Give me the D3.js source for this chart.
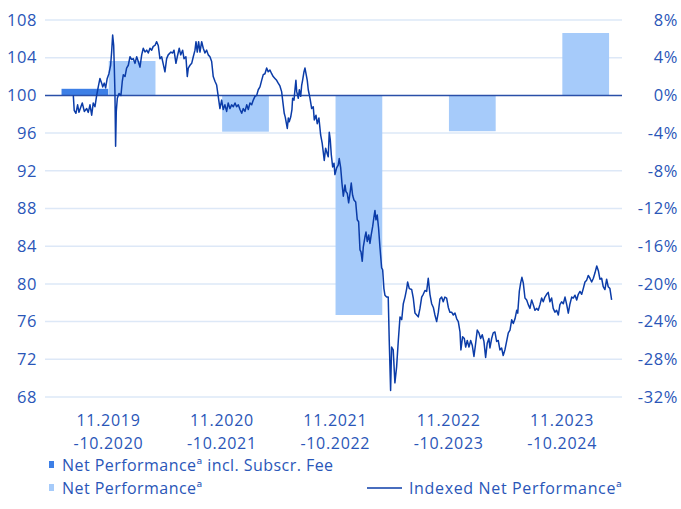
<!DOCTYPE html>
<html>
<head>
<meta charset="utf-8">
<script src="https://cdn.jsdelivr.net/npm/d3@7"></script>
<style>
  body { margin: 0; background: #fff; }
  svg text { font-family: "Open Sans", sans-serif; fill: #2a56b8; }
</style>
</head>
<body>
<svg width="681" height="509"></svg>
<script>
  const periodFrom = ['11.2019', '11.2020', '11.2021', '11.2022', '11.2023'];
  const periodTo = ['-10.2020', '-10.2021', '-10.2022', '-10.2023', '-10.2024'];
  const feePerf = [0.7, null, null, null, null];
  const netPerf = [3.65, -3.85, -23.3, -3.8, 6.62];
  const leftTicks = [68, 72, 76, 80, 84, 88, 92, 96, 100, 104, 108];
  const rightTicks = [-32, -28, -24, -20, -16, -12, -8, -4, 0, 4, 8];

  // indexed net performance, time as decimal year
  const indexTime = [
    2020.023, 2020.031, 2020.046, 2020.061, 2020.073, 2020.090, 2020.102, 2020.120, 2020.141, 2020.155,
    2020.170, 2020.185, 2020.199, 2020.214, 2020.229, 2020.243, 2020.258, 2020.273, 2020.282, 2020.296,
    2020.308, 2020.322, 2020.337, 2020.352, 2020.361, 2020.370, 2020.379, 2020.384, 2020.390, 2020.396,
    2020.402, 2020.411, 2020.426, 2020.443, 2020.455, 2020.464, 2020.479, 2020.493, 2020.508, 2020.523,
    2020.538, 2020.552, 2020.567, 2020.582, 2020.596, 2020.611, 2020.626, 2020.640, 2020.655, 2020.670,
    2020.684, 2020.699, 2020.714, 2020.728, 2020.743, 2020.758, 2020.772, 2020.787, 2020.802, 2020.822,
    2020.831, 2020.846, 2020.860, 2020.884, 2020.899, 2020.911, 2020.928, 2020.940, 2020.957, 2020.970,
    2020.987, 2020.999, 2021.016, 2021.028, 2021.037, 2021.052, 2021.067, 2021.081, 2021.096, 2021.105,
    2021.116, 2021.128, 2021.140, 2021.155, 2021.169, 2021.184, 2021.199, 2021.213, 2021.228, 2021.243,
    2021.257, 2021.272, 2021.287, 2021.301, 2021.316, 2021.331, 2021.345, 2021.360, 2021.375, 2021.389,
    2021.404, 2021.419, 2021.434, 2021.449, 2021.463, 2021.478, 2021.493, 2021.508, 2021.522, 2021.537,
    2021.552, 2021.566, 2021.581, 2021.596, 2021.610, 2021.625, 2021.640, 2021.654, 2021.669, 2021.684,
    2021.698, 2021.713, 2021.728, 2021.742, 2021.757, 2021.772, 2021.786, 2021.801, 2021.816, 2021.830,
    2021.845, 2021.860, 2021.874, 2021.883, 2021.892, 2021.910, 2021.919, 2021.927, 2021.940, 2021.951,
    2021.957, 2021.969, 2021.980, 2021.986, 2021.993, 2022.007, 2022.016, 2022.028, 2022.037, 2022.045,
    2022.057, 2022.066, 2022.075, 2022.086, 2022.095, 2022.110, 2022.125, 2022.139, 2022.148, 2022.163,
    2022.174, 2022.189, 2022.204, 2022.218, 2022.227, 2022.236, 2022.248, 2022.260, 2022.271, 2022.280,
    2022.289, 2022.298, 2022.310, 2022.322, 2022.330, 2022.345, 2022.359, 2022.368, 2022.381, 2022.392,
    2022.404, 2022.419, 2022.427, 2022.439, 2022.451, 2022.463, 2022.474, 2022.486, 2022.498, 2022.513,
    2022.527, 2022.539, 2022.551, 2022.560, 2022.571, 2022.580, 2022.595, 2022.604, 2022.615, 2022.628,
    2022.639, 2022.650, 2022.663, 2022.674, 2022.683, 2022.692, 2022.703, 2022.715, 2022.727, 2022.742,
    2022.751, 2022.762, 2022.771, 2022.786, 2022.800, 2022.809, 2022.821, 2022.830, 2022.844, 2022.859,
    2022.874, 2022.889, 2022.904, 2022.919, 2022.933, 2022.948, 2022.963, 2022.971, 2022.986, 2023.007,
    2023.021, 2023.036, 2023.051, 2023.065, 2023.080, 2023.095, 2023.109, 2023.124, 2023.139, 2023.153,
    2023.168, 2023.183, 2023.198, 2023.212, 2023.227, 2023.242, 2023.256, 2023.271, 2023.285, 2023.300,
    2023.315, 2023.330, 2023.344, 2023.359, 2023.374, 2023.389, 2023.404, 2023.418, 2023.433, 2023.441,
    2023.456, 2023.471, 2023.483, 2023.497, 2023.512, 2023.527, 2023.541, 2023.556, 2023.571, 2023.585,
    2023.600, 2023.615, 2023.629, 2023.644, 2023.659, 2023.673, 2023.688, 2023.697, 2023.712, 2023.726,
    2023.741, 2023.756, 2023.770, 2023.785, 2023.800, 2023.814, 2023.829, 2023.844, 2023.859, 2023.874,
    2023.889, 2023.903, 2023.918, 2023.933, 2023.942, 2023.956, 2023.968, 2023.979, 2023.991, 2024.006,
    2024.021, 2024.035, 2024.050, 2024.065, 2024.079, 2024.094, 2024.109, 2024.123, 2024.138, 2024.153,
    2024.167, 2024.182, 2024.197, 2024.211, 2024.226, 2024.241, 2024.255, 2024.270, 2024.285, 2024.300,
    2024.314, 2024.329, 2024.344, 2024.359, 2024.374, 2024.388, 2024.403, 2024.418, 2024.432, 2024.447,
    2024.462, 2024.476, 2024.491, 2024.506, 2024.520, 2024.535, 2024.550, 2024.564, 2024.579, 2024.594,
    2024.609, 2024.624, 2024.639, 2024.653, 2024.667, 2024.682, 2024.696, 2024.711, 2024.726, 2024.740,
    2024.755, 2024.770
  ];
  const indexValue = [
    100.0, 98.4, 98.1, 99.0, 98.2, 98.8, 99.2, 98.3, 98.6, 98.2,
    99.0, 97.9, 99.2, 98.8, 100.0, 100.9, 101.8, 101.3, 100.9, 101.3,
    100.8, 101.8, 102.3, 103.2, 104.6, 106.4, 105.3, 103.2, 100.4, 94.6,
    98.3, 99.7, 100.2, 100.0, 101.5, 102.2, 102.0, 102.9, 103.2, 104.1,
    103.8, 103.9, 103.4, 104.1, 103.6, 103.0, 104.3, 105.0, 104.6, 104.8,
    104.5, 105.0, 104.8, 105.2, 105.3, 105.7, 105.3, 103.9, 104.1, 103.0,
    102.5, 103.9, 104.3, 104.6, 104.5, 104.8, 103.4, 104.1, 105.0, 104.3,
    104.8, 103.9, 104.1, 102.0, 102.9, 103.2, 103.4, 104.1, 104.8, 105.7,
    104.6, 105.7, 104.6, 105.7, 105.0, 104.5, 104.8, 104.3, 104.1, 103.6,
    102.0, 101.5, 101.1, 99.9, 98.6, 99.5, 98.5, 99.0, 98.3, 99.2,
    98.6, 99.0, 98.8, 99.2, 98.8, 99.0, 98.5, 98.1, 98.6, 98.3,
    99.0, 98.5, 99.2, 99.0, 99.5, 99.9, 100.0, 100.6, 100.9, 101.6,
    102.2, 102.3, 102.9, 102.5, 102.7, 102.3, 102.0, 101.8, 101.6, 101.3,
    101.0, 100.4, 99.0, 98.1, 97.7, 96.5, 97.6, 97.2, 97.7, 98.5,
    99.7, 99.5, 100.9, 101.6, 100.4, 99.7, 100.6, 99.9, 101.1, 101.6,
    102.5, 102.9, 102.3, 101.6, 100.6, 99.7, 98.6, 98.8, 97.4, 97.9,
    97.0, 97.6, 95.8, 94.9, 94.0, 93.1, 94.4, 93.9, 93.5, 96.1,
    95.3, 93.7, 92.4, 92.8, 91.6, 92.3, 92.6, 93.3, 92.3, 90.7,
    89.3, 90.5, 89.8, 89.6, 88.6, 89.6, 90.7, 89.4, 88.9, 88.7,
    86.8, 86.6, 83.6, 83.4, 82.4, 83.9, 85.0, 85.5, 84.5, 85.2,
    84.3, 85.2, 86.1, 87.1, 87.8, 86.8, 87.3, 85.9, 83.9, 81.7,
    81.5, 79.5, 78.8, 78.6, 78.6, 74.0, 68.7, 73.3, 73.0, 69.5,
    71.2, 74.0, 76.5, 76.2, 77.9, 78.6, 79.5, 80.2, 79.5, 79.4,
    78.5, 76.9, 76.7, 76.5, 77.4, 78.6, 78.9, 79.3, 79.2, 80.6,
    78.9, 77.9, 77.5, 76.7, 76.0, 77.0, 78.4, 78.6, 78.1, 78.6,
    78.5, 77.5, 77.0, 77.0, 76.7, 76.9, 76.3, 76.0, 74.9, 73.0,
    74.4, 74.2, 73.3, 74.0, 73.3, 74.0, 73.5, 72.3, 73.7, 75.1,
    74.8, 74.2, 74.6, 73.9, 72.2, 73.7, 74.2, 73.2, 74.2, 74.8,
    74.9, 73.9, 74.0, 73.0, 73.2, 72.4, 73.0, 73.9, 74.8, 75.1,
    76.2, 75.8, 76.3, 77.2, 76.9, 79.2, 80.1, 80.7, 80.1, 78.5,
    78.3, 77.8, 77.4, 78.3, 77.8, 77.2, 77.4, 77.2, 77.8, 78.5,
    78.1, 78.6, 78.9, 79.1, 78.1, 78.5, 77.4, 77.0, 77.2, 76.7,
    77.8, 78.1, 77.9, 78.6, 77.8, 76.9, 77.9, 78.6, 78.5, 78.8,
    78.3, 78.9, 79.2, 78.9, 79.5, 80.2, 80.4, 80.9, 80.6, 80.2,
    80.6, 81.2, 81.9, 81.4, 80.5, 80.6, 79.7, 79.4, 80.5, 79.7,
    79.5, 78.3
  ];

  const svg = d3.select('svg');
  const gridLeft = 45, gridRight = 622;

  const xBand = d3.scaleBand()
    .domain(periodFrom)
    .range([51.8, 618.8]);
  const xSub = d3.scaleBand()
    .domain(['fee', 'net'])
    .range([0, xBand.bandwidth()])
    .paddingOuter(0.206)
    .paddingInner(0.01);
  const xTime = d3.scaleLinear()
    .domain([2019 + 10 / 12, 2024 + 10 / 12])
    .range([51.8, 618.8]);
  const yLeft = d3.scaleLinear().domain([68, 108]).range([397, 20]);
  const yRight = d3.scaleLinear().domain([-32, 8]).range([397, 20]);

  // grid
  svg.append('g').selectAll('line').data(leftTicks.filter(d => d !== 100))
    .enter().append('line')
      .attr('x1', gridLeft).attr('x2', gridRight)
      .attr('y1', d => yLeft(d)).attr('y2', d => yLeft(d))
      .attr('stroke', '#dde8f7').attr('stroke-width', 1.5);

  // bars
  const bars = svg.append('g');
  const barRect = (sel, key, values, color) => {
    sel.selectAll('rect.' + key)
      .data(values.map((v, i) => ({ p: periodFrom[i], v })).filter(d => d.v !== null))
      .enter().append('rect')
        .attr('class', key)
        .attr('x', d => xBand(d.p) + xSub(key))
        .attr('width', xSub.bandwidth())
        .attr('y', d => yRight(Math.max(0, d.v)))
        .attr('height', d => Math.abs(yRight(d.v) - yRight(0)))
        .attr('fill', color);
  };
  barRect(bars, 'fee', feePerf, '#3d7fe6');
  barRect(bars, 'net', netPerf, '#a6cbfa');

  // zero line
  svg.append('line')
    .attr('x1', gridLeft).attr('x2', gridRight)
    .attr('y1', yRight(0)).attr('y2', yRight(0))
    .attr('stroke', '#2a4fa8').attr('stroke-width', 1.5);

  // index line
  const line = d3.line()
    .x(d => xTime(d[0]))
    .y(d => yLeft(d[1]));
  svg.append('path')
    .datum(indexTime.map((t, i) => [t, indexValue[i]]))
    .attr('d', line)
    .attr('fill', 'none')
    .attr('stroke', '#0b3ca8')
    .attr('stroke-width', 1.5)
    .attr('stroke-linejoin', 'round');

  // axes
  const leftAxis = svg.append('g')
    .attr('transform', 'translate(37,0)')
    .call(d3.axisLeft(yLeft).tickValues(leftTicks).tickSize(0).tickPadding(0));
  const rightAxis = svg.append('g')
    .attr('transform', 'translate(678,0)')
    .call(d3.axisLeft(yRight).tickValues(rightTicks).tickSize(0).tickPadding(0)
      .tickFormat(d => d + '%'));
  [leftAxis, rightAxis].forEach(a => {
    a.select('.domain').remove();
    a.selectAll('text')
      .attr('font-size', 16.5)
      .attr('letter-spacing', 0.6)
      .attr('font-family', '"Open Sans", sans-serif')
      .attr('fill', '#2a56b8');
  });

  const xl = svg.append('g');
  periodFrom.forEach((p, i) => {
    const cx = xBand(p) + xBand.bandwidth() / 2;
    const t = xl.append('text')
      .attr('text-anchor', 'middle')
      .attr('font-size', 16)
      .attr('letter-spacing', 0.7);
    t.append('tspan').attr('x', cx).attr('y', 426).text(p);
    t.append('tspan').attr('x', cx).attr('y', 449).text(periodTo[i]);
  });

  // legend
  const lg = svg.append('g').attr('font-size', 16);
  lg.append('rect').attr('x', 49).attr('y', 461).attr('width', 5).attr('height', 7).attr('fill', '#3d7fe6');
  lg.append('text').attr('x', 62).attr('y', 471).attr('letter-spacing', 0.45).text('Net Performanceª incl. Subscr. Fee');
  lg.append('rect').attr('x', 49).attr('y', 484).attr('width', 5).attr('height', 7).attr('fill', '#a6cbfa');
  lg.append('text').attr('x', 62).attr('y', 494).attr('letter-spacing', 0.45).text('Net Performanceª');
  lg.append('line').attr('x1', 367).attr('x2', 402).attr('y1', 488).attr('y2', 488)
    .attr('stroke', '#0b3ca8').attr('stroke-width', 1.3);
  lg.append('text').attr('x', 409).attr('y', 494).attr('letter-spacing', 0.65).text('Indexed Net Performanceª');
</script>
</body>
</html>
